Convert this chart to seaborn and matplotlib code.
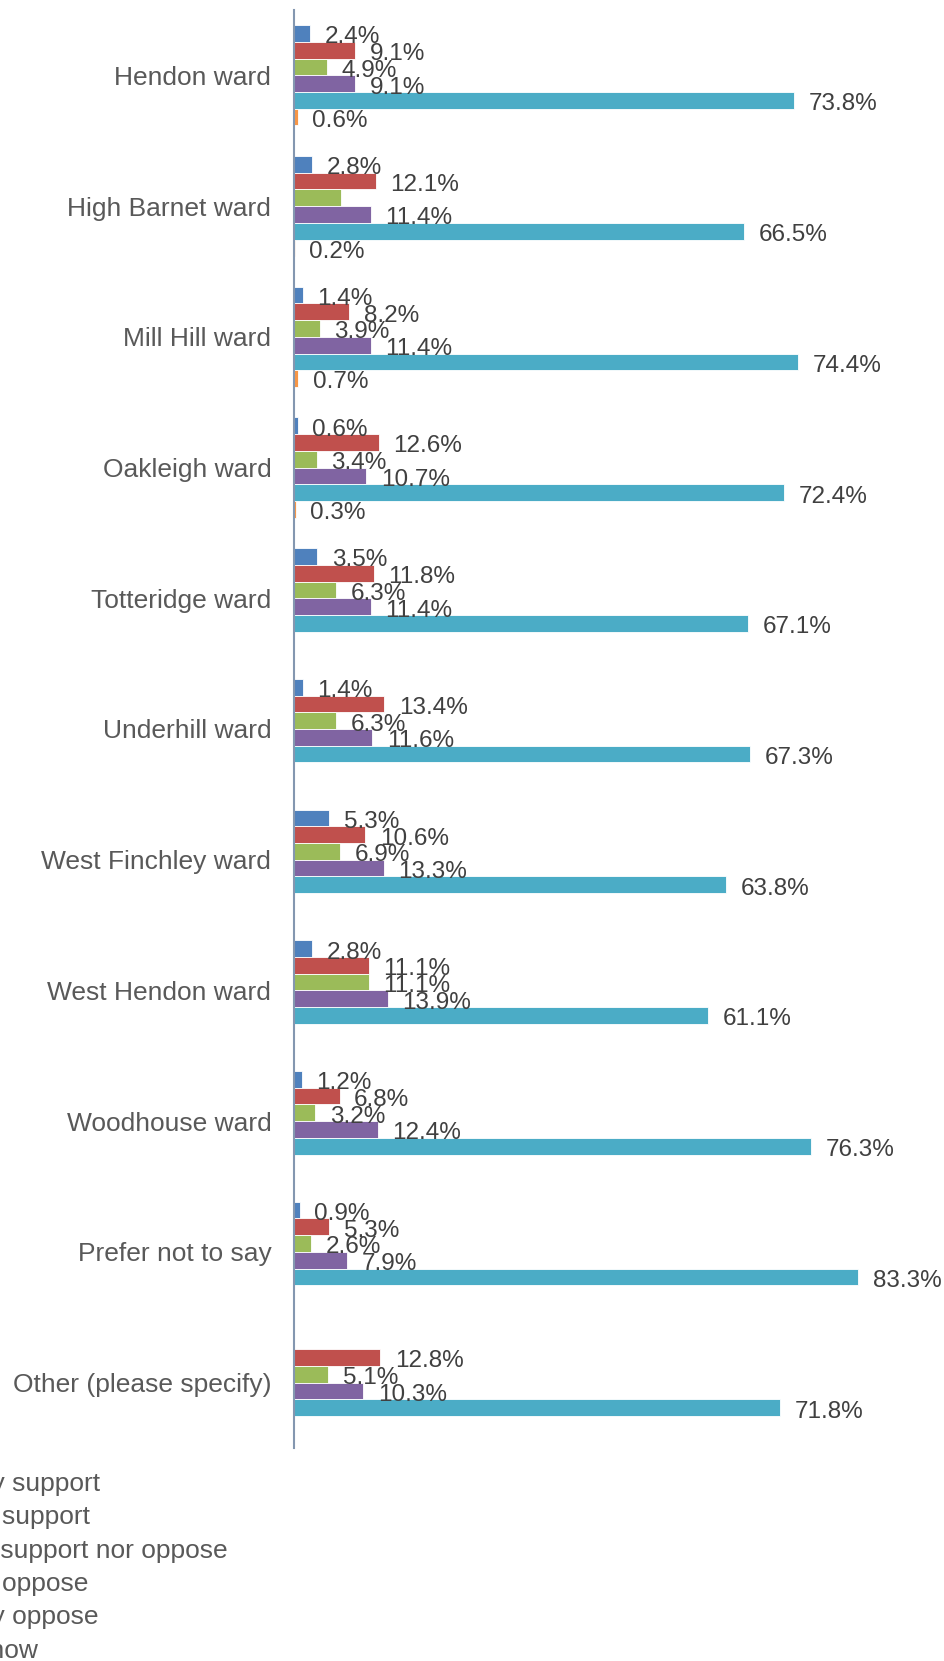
import numpy as np
import pandas as pd
import matplotlib
matplotlib.use("Agg")
import matplotlib.pyplot as plt
import seaborn as sns

sns.set_style("white")
plt.rcParams['font.family'] = ['Liberation Sans', 'DejaVu Sans']

# ---------------- data ----------------
wards = ["Hendon ward", "High Barnet ward", "Mill Hill ward", "Oakleigh ward",
         "Totteridge ward", "Underhill ward", "West Finchley ward",
         "West Hendon ward", "Woodhouse ward", "Prefer not to say",
         "Other (please specify)"]

responses = ["Strongly support", "Tend to support", "Neither support nor oppose",
             "Tend to oppose", "Strongly oppose", "Don't know"]

strongly_support = [2.4, 2.8, 1.4, 0.6, 3.5, 1.4, 5.3, 2.8, 1.2, 0.9, np.nan]
tend_support     = [9.1, 12.1, 8.2, 12.6, 11.8, 13.4, 10.6, 11.1, 6.8, 5.3, 12.8]
neither          = [4.9, 7.0, 3.9, 3.4, 6.3, 6.3, 6.9, 11.1, 3.2, 2.6, 5.1]
tend_oppose      = [9.1, 11.4, 11.4, 10.7, 11.4, 11.6, 13.3, 13.9, 12.4, 7.9, 10.3]
strongly_oppose  = [73.8, 66.5, 74.4, 72.4, 67.1, 67.3, 63.8, 61.1, 76.3, 83.3, 71.8]
dont_know        = [0.6, 0.2, 0.7, 0.3, np.nan, np.nan, np.nan, np.nan, np.nan, np.nan, np.nan]

# labels not displayed in the original chart: (ward, response)
hidden_labels = [("High Barnet ward", "Neither support nor oppose")]

colors = ["#4F81BD", "#C0504D", "#9BBB59", "#8064A2", "#4BACC6", "#F79646"]

series = [strongly_support, tend_support, neither, tend_oppose, strongly_oppose, dont_know]
rows = []
for resp, vals in zip(responses, series):
    for w, v in zip(wards, vals):
        rows.append({"ward": w, "response": resp, "pct": v})
df = pd.DataFrame(rows)

# ---------------- figure ----------------
W_PX, H_PX = 944, 1661
fig = plt.figure(figsize=(W_PX / 100, H_PX / 100), dpi=100)
x0_px, top_px, bot_px = 293.5, 10, 1448
ax = fig.add_axes([x0_px / W_PX, 1 - bot_px / H_PX, 1 - x0_px / W_PX, (bot_px - top_px) / H_PX])

sns.barplot(data=df, y="ward", x="pct", hue="response", order=wards,
            hue_order=responses, palette=colors, orient="h", width=0.767,
            errorbar=None, saturation=1, legend=False, dodge=True,
            edgecolor="white", linewidth=0.6, ax=ax)

ax.set_xlim(0, (W_PX - x0_px) / 6.78)
ax.set_ylim(len(wards) - 0.5, -0.5)
ax.set_xticks([])
ax.set_xlabel("")
ax.set_ylabel("")
for s in ["top", "right", "bottom"]:
    ax.spines[s].set_visible(False)
ax.spines["left"].set_color("#8497B0")
ax.spines["left"].set_linewidth(1.5)
ax.tick_params(axis="y", length=0, pad=16, labelsize=19, labelcolor="#595959")

# ---------------- value labels ----------------
hidden = set(hidden_labels)
for hi, cont in enumerate(ax.containers):
    for patch in cont.patches:
        w = patch.get_width()
        if w is None or not np.isfinite(w) or w <= 0:
            continue
        yc = patch.get_y() + patch.get_height() / 2
        ci = int(round(yc))
        if (wards[ci], responses[hi]) in hidden:
            continue
        ax.annotate(f"{w:.1f}%", xy=(w, yc), xytext=(10.5, -1),
                    textcoords="offset points", ha="left", va="center_baseline",
                    fontsize=17.5, color="#404040", annotation_clip=False)

# ---------------- legend (cropped on the left in the original) ----------------
for i, (lab, col) in enumerate(zip(responses, colors)):
    fig.text(-92 / W_PX, 1 - (1491 + 33.3 * i) / H_PX, lab, ha="left",
             va="baseline", fontsize=19, color="#595959")

fig.savefig("out.png", dpi=100)
